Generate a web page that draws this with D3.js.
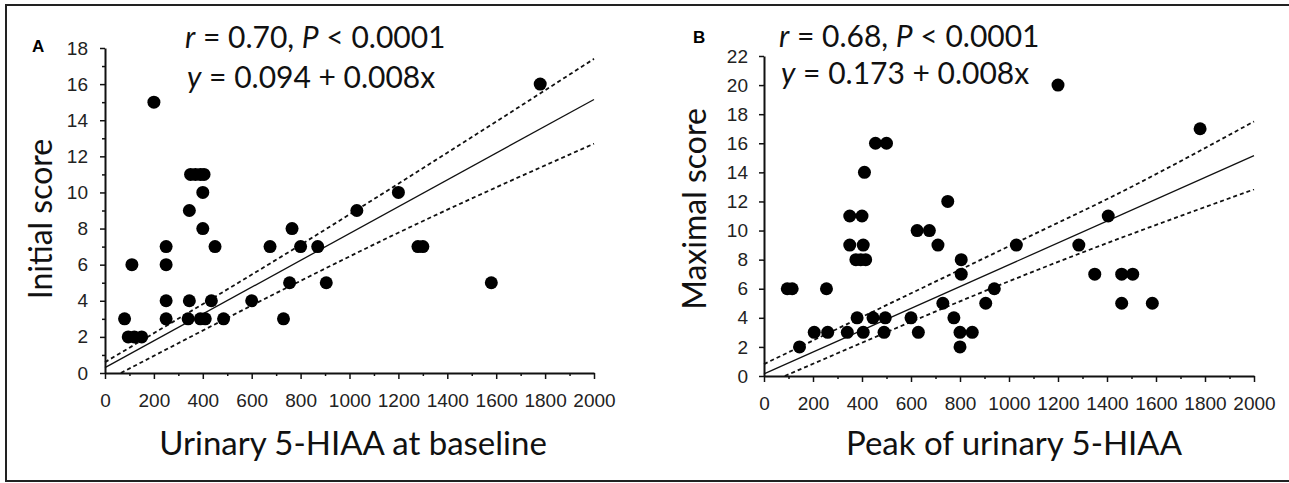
<!DOCTYPE html>
<html>
<head>
<meta charset="utf-8">
<script src="https://cdn.jsdelivr.net/npm/d3@7"></script>
<style>
  html, body { margin: 0; padding: 0; background: #fff; }
  svg { display: block; }
  .tick text { font-family: "Liberation Sans Narrow", "Liberation Sans", Arial, sans-serif; font-size: 19px; fill: #222; }
  .lbl { font-family: Lato, "Open Sans", sans-serif; fill: #111; }
</style>
</head>
<body>
<svg id="chart" width="1289" height="483"></svg>
<script>
// ---------- Data ----------
const xTicks = [0, 200, 400, 600, 800, 1000, 1200, 1400, 1600, 1800, 2000];
const yTicksA = [0, 2, 4, 6, 8, 10, 12, 14, 16, 18];
const yTicksB = [0, 2, 4, 6, 8, 10, 12, 14, 16, 18, 20, 22];

// Panel A: urinary 5-HIAA at baseline vs initial score
const aX = [80, 95, 120, 150, 110, 200, 250, 250, 250, 250, 345, 350, 370, 390, 405, 400, 400, 450, 345, 340, 390, 410, 435, 485, 600, 675, 765, 800, 870, 755, 730, 905, 1030, 1200, 1280, 1300, 1580, 1780];
const aY = [3, 2, 2, 2, 6, 15, 7, 6, 4, 3, 9, 11, 11, 11, 11, 10, 8, 7, 4, 3, 3, 3, 4, 3, 4, 7, 8, 7, 7, 5, 3, 5, 9, 10, 7, 7, 5, 16];

// Panel B: peak urinary 5-HIAA vs maximal score
const bX = [95, 115, 255, 145, 205, 260, 340, 380, 405, 445, 495, 490, 350, 400, 350, 405, 375, 395, 415, 410, 455, 500, 600, 630, 625, 675, 710, 750, 730, 775, 805, 805, 800, 800, 850, 905, 940, 1030, 1200, 1780, 1405, 1285, 1350, 1460, 1505, 1460, 1585];
const bY = [6, 6, 6, 2, 3, 3, 3, 4, 3, 4, 4, 3, 11, 11, 9, 9, 8, 8, 8, 14, 16, 16, 4, 3, 10, 10, 9, 12, 5, 4, 8, 7, 3, 2, 3, 5, 6, 9, 20, 17, 11, 9, 7, 7, 7, 5, 5];

// Regression line and confidence bands
const fitAX = [0, 2000], fitAY = [0.3, 15.15];
const upAX = [0, 800, 1400, 2000], upAY = [0.6, 7.1, 12.2, 17.4];
const loAX = [65, 755, 1166, 2000], loAY = [0, 4.8, 7.55, 12.7];

const fitBX = [0, 2000], fitBY = [0.15, 15.15];
const upBX = [0, 1127, 1405, 2000], upBY = [0.82, 9.95, 12.2, 17.5];
const loBX = [85, 1167, 2000], loBY = [0, 7.63, 12.83];

// ---------- Drawing ----------
const svg = d3.select("#chart");

// outer frame
svg.append("rect").attr("x", 6).attr("y", 5).attr("width", 1290).attr("height", 476)
  .attr("fill", "none").attr("stroke", "#222").attr("stroke-width", 2);

function panel(cfg) {
  const x = d3.scaleLinear().domain([0, 2000]).range(cfg.xr);
  const y = d3.scaleLinear().domain(cfg.yd).range(cfg.yr);
  const g = svg.append("g");

  // minor x ticks
  const minorX = d3.range(100, 2000, 200);
  g.append("g").attr("transform", `translate(0,${cfg.yr[0]})`)
    .call(d3.axisBottom(x).tickValues(minorX).tickSize(3).tickFormat(""))
    .call(s => s.select(".domain").remove())
    .call(s => s.selectAll("line").attr("stroke", "#111").attr("stroke-width", 1.5));
  // major x axis
  g.append("g").attr("transform", `translate(0,${cfg.yr[0]})`)
    .call(d3.axisBottom(x).tickValues(xTicks).tickFormat(d3.format("d")).tickSize(6).tickPadding(15).tickSizeOuter(0))
    .call(s => s.select(".domain").attr("stroke", "#111").attr("stroke-width", 2))
    .call(s => s.selectAll("line").attr("stroke", "#111").attr("stroke-width", 1.5));

  // minor y ticks
  if (cfg.minorY) {
    g.append("g").attr("transform", `translate(${cfg.xr[0]},0)`)
      .call(d3.axisLeft(y).tickValues(cfg.minorY).tickSize(3).tickFormat(""))
      .call(s => s.select(".domain").remove())
      .call(s => s.selectAll("line").attr("stroke", "#111").attr("stroke-width", 1.5));
  }
  g.append("g").attr("transform", `translate(${cfg.xr[0]},0)`)
    .call(d3.axisLeft(y).tickValues(cfg.yTicks).tickFormat(d3.format("d")).tickSize(5).tickPadding(cfg.yPad).tickSizeOuter(0))
    .call(s => s.select(".domain").attr("stroke", "#111").attr("stroke-width", 2))
    .call(s => s.selectAll("line").attr("stroke", "#111").attr("stroke-width", 1.5));

  // lines
  const line = d3.line().x(d => x(d[0])).y(d => y(d[1])).curve(d3.curveMonotoneX);
  const zipP = (xs, ys) => xs.map((v, i) => [v, ys[i]]);
  g.append("path").attr("d", line(zipP(cfg.fit[0], cfg.fit[1])))
    .attr("fill", "none").attr("stroke", "#111").attr("stroke-width", 1.3);
  [cfg.up, cfg.lo].forEach(b => {
    g.append("path").attr("d", line(zipP(b[0], b[1])))
      .attr("fill", "none").attr("stroke", "#111").attr("stroke-width", 1.8)
      .attr("stroke-dasharray", "4,3");
  });

  // points
  g.selectAll("circle.pt").data(zipP(cfg.px, cfg.py)).enter().append("circle")
    .attr("class", "pt")
    .attr("cx", d => x(d[0])).attr("cy", d => y(d[1])).attr("r", 6.5)
    .attr("fill", "#000");

  // panel letter
  svg.append("text").attr("x", cfg.letter[0]).attr("y", cfg.letter[1])
    .attr("font-family", "Liberation Sans, Arial, sans-serif").attr("font-weight", "bold")
    .attr("font-size", 17).attr("fill", "#000").text(cfg.letter[2]);

  // equations
  const t1 = svg.append("text").attr("class", "lbl").attr("x", cfg.eq[0]).attr("y", cfg.eq[1]).attr("font-size", 30);
  t1.append("tspan").attr("font-style", "italic").text("r");
  t1.append("tspan").text(` = ${cfg.r}, `);
  t1.append("tspan").attr("font-style", "italic").text("P");
  t1.append("tspan").text(" < 0.0001");
  const t2 = svg.append("text").attr("class", "lbl").attr("x", cfg.eq[0] + 2).attr("y", cfg.eq[2]).attr("font-size", 30);
  t2.append("tspan").attr("font-style", "italic").text("y");
  t2.append("tspan").text(` = ${cfg.eqn}`);

  // axis titles
  svg.append("text").attr("class", "lbl").attr("text-anchor", "middle")
    .attr("x", cfg.xl[0]).attr("y", cfg.xl[1]).attr("font-size", 33).text(cfg.xl[2]);
  svg.append("text").attr("class", "lbl").attr("text-anchor", "middle")
    .attr("transform", `translate(${cfg.yl[0]},${cfg.yl[1]}) rotate(-90)`)
    .attr("font-size", 32).text(cfg.yl[2]);
}

panel({
  xr: [105, 594], yd: [0, 18], yr: [373, 48],
  yTicks: yTicksA, minorY: d3.range(1, 18, 2), yPad: 12,
  px: aX, py: aY,
  fit: [fitAX, fitAY], up: [upAX, upAY], lo: [loAX, loAY],
  letter: [32, 52, "A"],
  eq: [185, 48, 88], r: "0.70", eqn: "0.094 + 0.008x",
  xl: [353, 455, "Urinary 5-HIAA at baseline"],
  yl: [52, 219, "Initial score"]
});

panel({
  xr: [764, 1254], yd: [0, 22], yr: [376, 56],
  yTicks: yTicksB, minorY: null, yPad: 11,
  px: bX, py: bY,
  fit: [fitBX, fitBY], up: [upBX, upBY], lo: [loBX, loBY],
  letter: [693, 43, "B"],
  eq: [779, 47, 84], r: "0.68", eqn: "0.173 + 0.008x",
  xl: [1014, 455, "Peak of urinary 5-HIAA"],
  yl: [706, 209, "Maximal score"]
});
</script>
</body>
</html>
